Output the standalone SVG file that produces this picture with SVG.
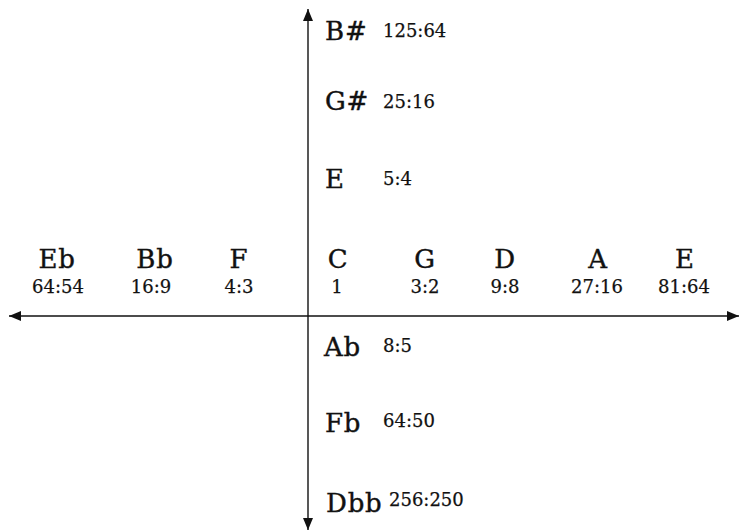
<svg xmlns="http://www.w3.org/2000/svg" width="740" height="532" viewBox="0 0 740 532">
<style>
.note{font-family:"DejaVu Serif","Liberation Serif",serif;font-size:26px;fill:#111;stroke:#111;stroke-width:0.4;letter-spacing:0.8px}
.ratio{font-family:"DejaVu Serif","Liberation Serif",serif;font-size:18px;fill:#111;stroke:#111;stroke-width:0.25}
.mid{text-anchor:middle}
.axis{stroke:#111;stroke-width:1.4;fill:none}
</style>
<defs>
<marker id="arrow" viewBox="0 0 12 10" refX="12" refY="5" markerWidth="12" markerHeight="10" markerUnits="userSpaceOnUse" orient="auto-start-reverse">
<path d="M0,0 L12,5 L0,10 z" fill="#111"/>
</marker>
</defs>
<rect width="740" height="532" fill="#fff"/>
<g id="connectors">
<line class="axis" x1="308" y1="9" x2="308" y2="530" marker-start="url(#arrow)" marker-end="url(#arrow)"/>
<line class="axis" x1="9" y1="316" x2="739" y2="316" marker-start="url(#arrow)" marker-end="url(#arrow)"/>
</g>
<g id="node-Bsharp"><text class="note" x="325" y="40">B#</text><text class="ratio" x="383" y="37">125:64</text></g>
<g id="node-Gsharp"><text class="note" x="325" y="110">G#</text><text class="ratio" x="383" y="108">25:16</text></g>
<g id="node-E-up"><text class="note" x="325" y="188">E</text><text class="ratio" x="383" y="185">5:4</text></g>
<g id="node-Ab"><text class="note" x="324" y="356">Ab</text><text class="ratio" x="383" y="352">8:5</text></g>
<g id="node-Fb"><text class="note" x="325" y="432">Fb</text><text class="ratio" x="383" y="427">64:50</text></g>
<g id="node-Dbb"><text class="note" x="326" y="512">Dbb</text><text class="ratio" x="389" y="506">256:250</text></g>
<g id="node-Eb"><text class="note mid" x="57" y="268">Eb</text><text class="ratio mid" x="58" y="293">64:54</text></g>
<g id="node-Bb"><text class="note mid" x="155" y="268">Bb</text><text class="ratio mid" x="151" y="293">16:9</text></g>
<g id="node-F"><text class="note mid" x="239" y="268">F</text><text class="ratio mid" x="239" y="293">4:3</text></g>
<g id="node-C"><text class="note mid" x="338" y="268">C</text><text class="ratio mid" x="337" y="293">1</text></g>
<g id="node-G"><text class="note mid" x="425" y="268">G</text><text class="ratio mid" x="425" y="293">3:2</text></g>
<g id="node-D"><text class="note mid" x="505" y="268">D</text><text class="ratio mid" x="505" y="293">9:8</text></g>
<g id="node-A"><text class="note mid" x="598" y="268">A</text><text class="ratio mid" x="597" y="293">27:16</text></g>
<g id="node-E-right"><text class="note mid" x="685" y="268">E</text><text class="ratio mid" x="684" y="293">81:64</text></g>
</svg>
